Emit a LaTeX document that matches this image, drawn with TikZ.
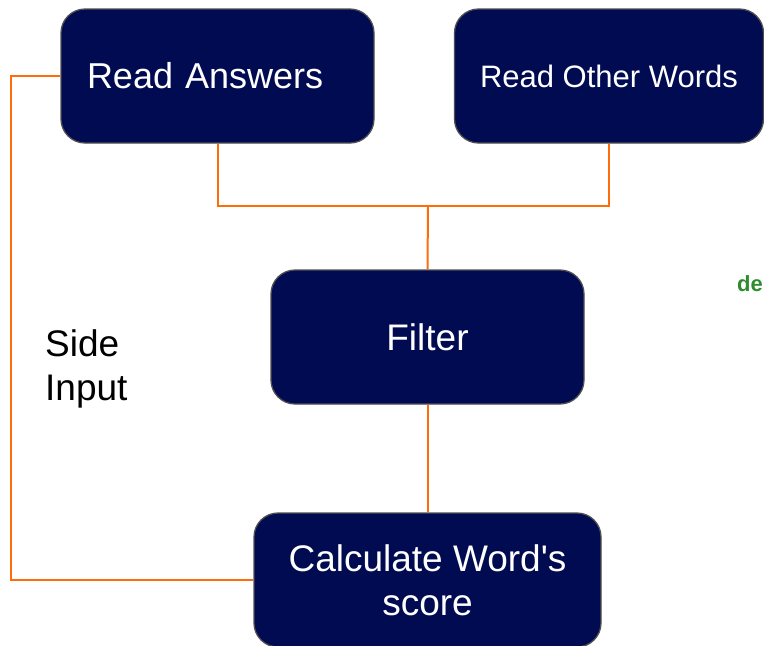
\documentclass[tikz,border=0pt]{standalone}
\usepackage{fontspec}
\setmainfont{Liberation Sans}[Ligatures=TeXOff]
\definecolor{navy}{HTML}{000B52}
\definecolor{boxedge}{HTML}{505050}
\definecolor{linkorange}{HTML}{FF6D0A}
\definecolor{degreen}{HTML}{2E8B2E}
\begin{document}
\begin{tikzpicture}[x=1pt,y=-1pt,
  stagebox/.style={draw=boxedge, line width=1.3pt, fill=navy, rounded corners=24pt,
    text=white, minimum height=134pt, inner sep=0pt},
  bigtext/.style={font=\fontsize{37}{44}\selectfont},
  link/.style={draw=linkorange, line width=2pt}]
\useasboundingbox (0,0) rectangle (764,646);
\node[stagebox, font=\fontsize{36}{44}\selectfont, minimum width=313pt, text width=261pt, align=left, inner xsep=26pt] (ra) at (217.5,76) {Read Answers};
\node[stagebox, font=\fontsize{31}{37}\selectfont, minimum width=309pt] (row) at (609,76) {Read Other Words};
\node[stagebox, bigtext, minimum width=313pt] (filter) at (427.5,337) {Filter};
\node[stagebox, bigtext, minimum width=347pt, align=center] (calc) at (427.5,580) {Calculate Word's\\score};
\node[bigtext, align=left, anchor=west, inner sep=0pt] (side) at (45,369) {Side\\Input};
\node[font=\fontsize{22}{26}\selectfont\bfseries, text=degreen, anchor=east, inner sep=0pt] (de) at (763,284) {de};
\coordinate (j) at (428,206);
\coordinate (sl1) at (11,76);
\coordinate (sl2) at (11,580);
\draw[link] (ra.south) |- (j) -| (row.south);
\draw[link] (j) -- (filter.north);
\draw[link] (filter.south) -- (calc.north);
\draw[link] (ra.west) -- (sl1) -- (sl2) -- (calc.west);
\end{tikzpicture}
\end{document}
